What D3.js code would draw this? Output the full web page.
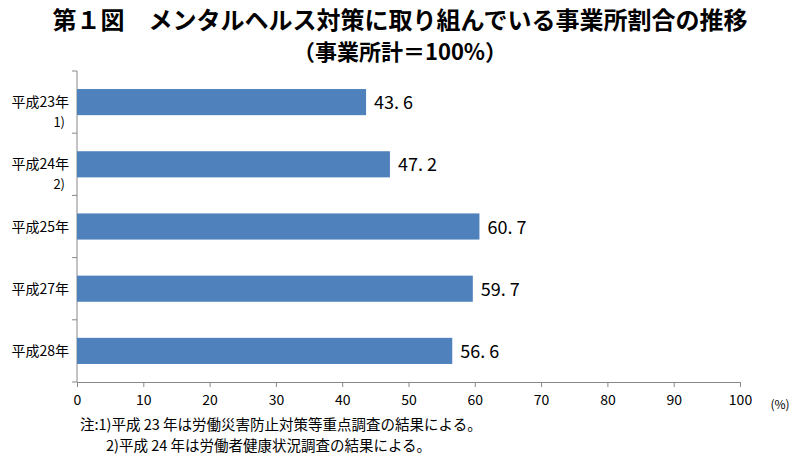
<!DOCTYPE html>
<html><head><meta charset="utf-8">
<script src="https://cdn.jsdelivr.net/npm/d3@7"></script>
<style>body{margin:0;background:#fff}text{font-family:"Noto Sans CJK JP",sans-serif}</style>
</head><body><svg id="c" width="802" height="460"></svg>
<script>
const years = ['平成23年', '平成24年', '平成25年', '平成27年', '平成28年']
const notes = ['1)', '2)', '', '', '']
const values = [43.6, 47.2, 60.7, 59.7, 56.6]
const xTicks = d3.range(0, 101, 10)

const svg = d3.select('#c')
const margin = { top: 71, left: 77, right: 62, bottom: 78 }
const width = 802 - margin.left - margin.right
const height = 460 - margin.top - margin.bottom

svg.append('text').attr('x', 400).attr('y', 29).attr('text-anchor', 'middle')
   .attr('font-size', 24).attr('font-weight', 'bold').text('第１図　メンタルヘルス対策に取り組んでいる事業所割合の推移')
svg.append('text').attr('x', 400).attr('y', 60).attr('text-anchor', 'middle')
   .attr('font-size', 22).attr('font-weight', 'bold').text('（事業所計＝100%）')

const g = svg.append('g').attr('transform', `translate(${margin.left},${margin.top})`)
const x = d3.scaleLinear().domain([0, 100]).range([0, width])
const y = d3.scaleBand().domain(years).range([0, height]).paddingInner(0.58).paddingOuter(0.29)

// x axis
const xa = g.append('g').attr('transform', `translate(0,${height})`)
  .call(d3.axisBottom(x).tickValues(xTicks).tickSize(5).tickSizeOuter(0))
xa.selectAll('path,line').attr('stroke', '#888')
xa.selectAll('text').attr('font-size', 14).attr('fill', '#000').attr('dy', '1.1em')
svg.append('text').attr('x', 780).attr('y', 409).attr('text-anchor', 'middle')
   .attr('font-size', 12).text('(%)')

// y axis line + ticks at band boundaries
g.append('line').attr('x1', 0).attr('x2', 0).attr('y1', 0).attr('y2', height).attr('stroke', '#888')
const step = height / years.length
g.selectAll('.yt').data(d3.range(years.length + 1)).join('line')
  .attr('x1', -5).attr('x2', 0).attr('y1', i => i * step).attr('y2', i => i * step).attr('stroke', '#888')

g.selectAll('.lab').data(years).join('text')
  .attr('x', -8).attr('y', d => y(d) + y.bandwidth() / 2 + 5)
  .attr('text-anchor', 'end').attr('font-size', 14).text(d => d)
g.selectAll('.note').data(years).join('text')
  .attr('x', -12).attr('y', d => y(d) + y.bandwidth() / 2 + 25)
  .attr('text-anchor', 'end').attr('font-size', 13).text((d, i) => notes[i])

g.selectAll('.bar').data(values).join('rect')
  .attr('x', 0).attr('y', (d, i) => y(years[i]))
  .attr('width', d => x(d)).attr('height', y.bandwidth()).attr('fill', '#4f81bd')
g.selectAll('.val').data(values).join('text')
  .attr('x', d => x(d) + 8).attr('y', (d, i) => y(years[i]) + y.bandwidth() / 2 + 7)
  .attr('font-size', 18).text(d => d.toFixed(1).replace('.', '. '))

svg.append('text').attr('x', 80).attr('y', 430).attr('font-size', 14.5).text('注:1)平成 23 年は労働災害防止対策等重点調査の結果による。')
svg.append('text').attr('x', 106).attr('y', 451).attr('font-size', 14.5).text('2)平成 24 年は労働者健康状況調査の結果による。')
</script></body></html>
